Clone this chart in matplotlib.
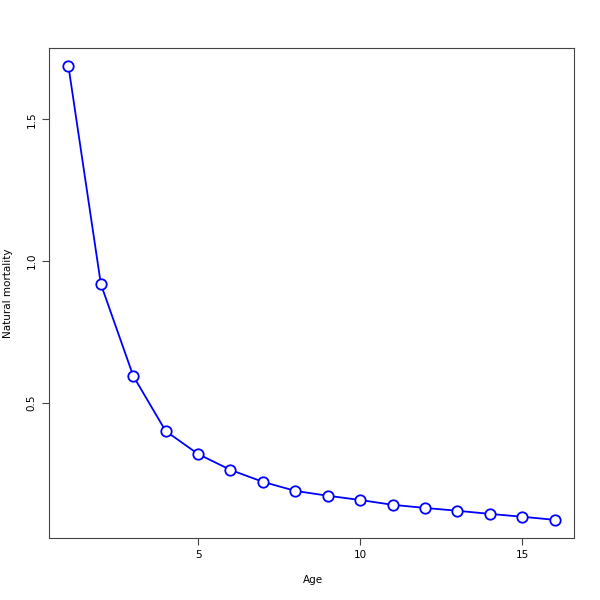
import matplotlib
matplotlib.use("Agg")
import matplotlib.pyplot as plt

age = list(range(1, 17))
mortality = [1.687, 0.919, 0.595, 0.401, 0.320, 0.264, 0.222, 0.190,
             0.173, 0.158, 0.141, 0.130, 0.120, 0.109, 0.099, 0.088]

fig = plt.figure(figsize=(6, 6), dpi=100)
ax = fig.add_axes([49 / 600, 62 / 600, 525 / 600, 490 / 600])

ax.plot(age, mortality, color="blue", lw=1.3, marker="o", ms=7.5,
        mfc="white", mec="blue", mew=1.3)

ax.set_xlim(0.4, 16.6)
ax.set_ylim(0.024, 1.751)
ax.set_xticks([5, 10, 15])
ax.set_yticks([0.5, 1.0, 1.5])
ax.set_yticklabels(["0.5", "1.0", "1.5"], rotation=90, va="center")
ax.tick_params(direction="out", length=5, width=0.8, labelsize=7.5,
               color="#444444", pad=4)
for s in ax.spines.values():
    s.set_color("#444444")
    s.set_linewidth(0.8)

fig.text(313 / 600, 1 - 580 / 600, "Age", fontsize=7.5,
         ha="center", va="center")
fig.text(8 / 600, 1 - 293 / 600, "Natural mortality", fontsize=7.5,
         ha="center", va="center", rotation=90)

fig.savefig("out.png", dpi=100)
